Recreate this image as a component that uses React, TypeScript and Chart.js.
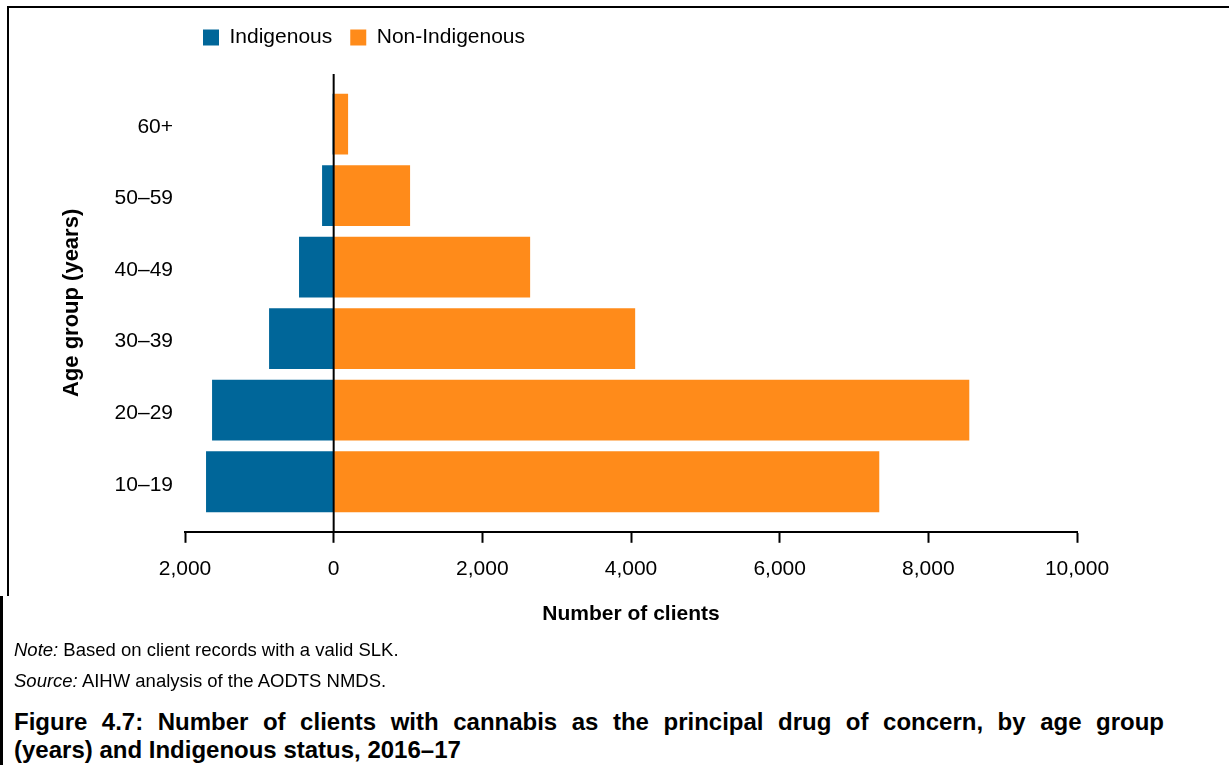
import React, { useEffect, useRef } from 'react';
import { Chart, registerables } from 'chart.js';

Chart.register(...registerables);

const ageGroups = ['10–19', '20–29', '30–39', '40–49', '50–59', '60+'];
const indigenous = [1717, 1636, 869, 466, 156, 15];
const nonIndigenous = [7340, 8551, 4056, 2643, 1028, 194];
const seriesNames = ['Indigenous', 'Non-Indigenous'];
const seriesColors = ['#006699', '#FF8B1A'];
const xMin = -2000;
const xMax = 10000;
const xStep = 2000;

const FONT = '"Liberation Sans", Arial, Helvetica, sans-serif';

const zeroLine = {
  id: 'zeroLine',
  afterDatasetsDraw(chart: any) {
    const { ctx, chartArea, scales } = chart;
    const x = scales.x.getPixelForValue(0);
    ctx.save();
    ctx.strokeStyle = '#000';
    ctx.lineWidth = 2;
    ctx.beginPath();
    ctx.moveTo(x, chartArea.top);
    ctx.lineTo(x, chartArea.bottom);
    ctx.stroke();
    ctx.restore();
  },
};

export default function App() {
  const canvasRef = useRef<HTMLCanvasElement | null>(null);

  useEffect(() => {
    if (!canvasRef.current) return;
    const chart = new Chart(canvasRef.current, {
      type: 'bar',
      data: {
        datasets: [
          {
            label: seriesNames[0],
            data: indigenous.map((v, i) => ({ x: -v, y: i })),
            backgroundColor: seriesColors[0],
            borderWidth: 0,
            barPercentage: 1,
            categoryPercentage: 0.85,
          },
          {
            label: seriesNames[1],
            data: nonIndigenous.map((v, i) => ({ x: v, y: i })),
            backgroundColor: seriesColors[1],
            borderWidth: 0,
            barPercentage: 1,
            categoryPercentage: 0.85,
          },
        ],
      } as any,
      options: {
        indexAxis: 'y',
        animation: false,
        responsive: false,
        maintainAspectRatio: false,
        layout: { padding: { top: 9, left: 40, right: 152, bottom: 14 } },
        plugins: {
          legend: {
            position: 'top',
            align: 'start',
            fullSize: false,
            labels: {
              boxWidth: 16,
              boxHeight: 16,
              padding: 18,
              color: '#000',
              font: { family: FONT, size: 21 },
            },
          },
          title: {
            display: true,
            text: '',
            weight: 900,
            padding: 0,
            font: { family: FONT, size: 16, lineHeight: 1 },
          },
          tooltip: { enabled: false },
        },
        scales: {
          x: {
            type: 'linear',
            min: xMin,
            max: xMax,
            stacked: true,
            ticks: {
              stepSize: xStep,
              color: '#000',
              padding: 14,
              maxRotation: 0,
              font: { family: FONT, size: 21 },
              callback: (v: any) => Math.abs(Number(v)).toLocaleString('en-US'),
            },
            grid: {
              drawOnChartArea: false,
              drawTicks: true,
              tickLength: 11,
              tickWidth: 2,
              tickColor: '#000',
            },
            border: { display: true, color: '#000', width: 2 },
            title: {
              display: true,
              text: 'Number of clients',
              color: '#000',
              font: { family: FONT, size: 21, weight: 'bold', lineHeight: 1.143 },
              padding: { top: 6, bottom: 0 },
            },
          },
          y: {
            type: 'linear',
            min: -0.7,
            max: 5.7,
            offset: false,
            stacked: true,
            afterBuildTicks: (s: any) => {
              s.ticks = ageGroups.map((_, i) => ({ value: i }));
            },
            afterFit: (s: any) => {
              s.width = 145;
            },
            ticks: {
              color: '#000',
              padding: 12,
              labelOffset: 3,
              font: { family: FONT, size: 21 },
              callback: (v: any) => ageGroups[Number(v)] ?? '',
            },
            grid: { display: false, drawTicks: false, offset: false },
            border: { display: false },
            title: {
              display: true,
              text: 'Age group (years)',
              color: '#000',
              font: { family: FONT, size: 22, weight: 'bold' },
              padding: { top: 19, bottom: 0 },
            },
          },
        },
      } as any,
      plugins: [zeroLine],
    });
    return () => chart.destroy();
  }, []);

  const textBase: React.CSSProperties = {
    position: 'absolute',
    left: 14,
    fontFamily: FONT,
    color: '#000',
    whiteSpace: 'nowrap',
  };

  return (
    <div
      style={{
        position: 'absolute',
        left: 0,
        top: 0,
        width: 1229,
        height: 765,
        overflow: 'hidden',
        background: '#fff',
      }}
    >
      <canvas
        ref={canvasRef}
        width={1229}
        height={640}
        style={{ position: 'absolute', left: 0, top: 0, display: 'block' }}
      />
      <div style={{ position: 'absolute', left: 7, top: 6, width: 1222, height: 2, background: '#000' }} />
      <div style={{ position: 'absolute', left: 7, top: 6, width: 2, height: 590, background: '#000' }} />
      <div style={{ position: 'absolute', left: 0, top: 596, width: 3, height: 169, background: '#000' }} />
      <div style={{ ...textBase, top: 639, fontSize: 18.5, lineHeight: '22px' }}>
        <i>Note:</i> Based on client records with a valid SLK.
      </div>
      <div style={{ ...textBase, top: 670, fontSize: 18.5, lineHeight: '22px' }}>
        <i>Source:</i> AIHW analysis of the AODTS NMDS.
      </div>
      <div
        style={{
          position: 'absolute',
          left: 14,
          top: 708,
          width: 1150,
          fontFamily: FONT,
          fontSize: 24,
          lineHeight: '28px',
          fontWeight: 'bold',
          color: '#000',
          textAlign: 'justify',
          textAlignLast: 'justify' as any,
          whiteSpace: 'nowrap',
        }}
      >
        Figure 4.7: Number of clients with cannabis as the principal drug of concern, by age group
      </div>
      <div style={{ ...textBase, top: 736, fontSize: 24, lineHeight: '28px', fontWeight: 'bold' }}>
        (years) and Indigenous status, 2016–17
      </div>
    </div>
  );
}
